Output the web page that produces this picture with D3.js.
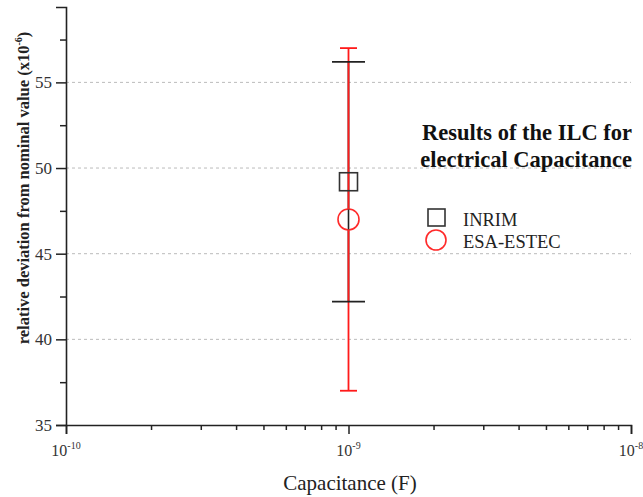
<!DOCTYPE html>
<html><head><meta charset="utf-8">
<script src="https://cdn.jsdelivr.net/npm/d3@7"></script>
<style>
body{margin:0;background:#fff;}
text{font-family:"Liberation Serif","Times New Roman",serif;}
</style></head>
<body><svg id="c" width="643" height="497"></svg>
<script>
const series = ["INRIM","ESA-ESTEC"];
const xValues = [1e-9, 1e-9];
const yValues = [49.2, 47.0];
const yErr = [7.0, 10.0];
const yTicks = [35, 40, 45, 50, 55];
const yMinorTicks = [37.5, 42.5, 47.5, 52.5, 57.5];
const xTicks = [1e-10, 1e-9, 1e-8];
const xTickExp = ["-10", "-9", "-8"];
const titleLines = ["Results of the ILC for", "electrical Capacitance"];

const svg = d3.select("#c");
const axisCol = "#222";
const x = d3.scaleLog().domain([1e-10, 1e-8]).range([66, 631]);
const y = d3.scaleLinear().domain([35, 59.4]).range([425, 7]);

// grid lines
svg.selectAll(".grid").data(yTicks.slice(1)).enter().append("line")
  .attr("x1", x.range()[0]).attr("x2", x.range()[1])
  .attr("y1", d => y(d)).attr("y2", d => y(d))
  .attr("stroke", "#bbb").attr("stroke-width", 1).attr("stroke-dasharray", "3,3");

// y axis
const yAxis = svg.append("g").attr("transform", `translate(${x.range()[0]},0)`)
  .call(d3.axisLeft(y).tickValues(yTicks).tickSize(10).tickPadding(4).tickFormat(d3.format("d")));
yAxis.select(".domain").attr("stroke", axisCol).attr("stroke-width", 1.6);
yAxis.selectAll(".tick line").attr("stroke", axisCol).attr("stroke-width", 1.5);
yAxis.selectAll(".tick text").attr("font-size", 17).attr("fill", "#333")
  .style("font-family", '"Liberation Serif",serif');
const yMin = svg.append("g").attr("transform", `translate(${x.range()[0]},0)`)
  .call(d3.axisLeft(y).tickValues(yMinorTicks).tickSize(6).tickFormat(""));
yMin.select(".domain").remove();
yMin.selectAll(".tick line").attr("stroke", axisCol).attr("stroke-width", 1.5);

// x axis
const xMinorVals = [];
[1e-10, 1e-9].forEach(dec => { for (let k = 2; k <= 9; k++) xMinorVals.push(k * dec); });
const xAxis = svg.append("g").attr("transform", `translate(0,${y.range()[0]})`)
  .call(d3.axisBottom(x).tickValues(xTicks).tickSize(9).tickFormat(""));
xAxis.select(".domain").attr("stroke", axisCol).attr("stroke-width", 1.6);
xAxis.selectAll(".tick line").attr("stroke", axisCol).attr("stroke-width", 1.5);
const xMin = svg.append("g").attr("transform", `translate(0,${y.range()[0]})`)
  .call(d3.axisBottom(x).tickValues(xMinorVals).tickSize(5).tickFormat(""));
xMin.select(".domain").remove();
xMin.selectAll(".tick line").attr("stroke", axisCol).attr("stroke-width", 1.5);

// x tick labels with superscripts
xTicks.forEach((t, i) => {
  const tx = svg.append("text").attr("x", x(t)).attr("y", 456)
    .attr("text-anchor", "middle").attr("font-size", 16).attr("fill", "#333");
  tx.append("tspan").text("10");
  tx.append("tspan").attr("font-size", 10).attr("dy", -7).text(xTickExp[i]);
});

// axis titles
svg.append("text").attr("x", 350).attr("y", 490)
  .attr("text-anchor", "middle").attr("font-size", 21).attr("fill", "#222")
  .text("Capacitance (F)");
const yl = svg.append("text").attr("transform", "translate(29,188) rotate(-90)")
  .attr("text-anchor", "middle").attr("font-size", 16.5).attr("font-weight", "bold").attr("fill", "#222");
yl.append("tspan").text("relative deviation from nominal value (x10");
yl.append("tspan").attr("font-size", 10).attr("dy", -7).text("-6");
yl.append("tspan").attr("dy", 7).text(")");

// error bars
const barCol = [axisCol, "#ff1a1a"];
const capW = [33, 17];
const order = [0, 1];
order.forEach(i => {
  svg.append("line").attr("x1", x(xValues[i])).attr("x2", x(xValues[i]))
    .attr("y1", y(yValues[i] + yErr[i])).attr("y2", y(yValues[i] - yErr[i]))
    .attr("stroke", barCol[i]).attr("stroke-width", 1.8);
});
order.forEach(i => {
  [yValues[i] + yErr[i], yValues[i] - yErr[i]].forEach(v => {
    svg.append("line").attr("x1", x(xValues[i]) - capW[i] / 2).attr("x2", x(xValues[i]) + capW[i] / 2)
      .attr("y1", y(v)).attr("y2", y(v))
      .attr("stroke", barCol[i]).attr("stroke-width", 1.8);
  });
});

// markers
svg.append("rect").attr("x", x(xValues[0]) - 9).attr("y", y(yValues[0]) - 9)
  .attr("width", 18).attr("height", 18).attr("fill", "none")
  .attr("stroke", "#333").attr("stroke-width", 1.6);
svg.append("circle").attr("cx", x(xValues[1])).attr("cy", y(yValues[1])).attr("r", 10.5)
  .attr("fill", "#fff").attr("stroke", "#ff2a2a").attr("stroke-width", 1.6);
svg.append("line").attr("x1", x(xValues[1])).attr("x2", x(xValues[1]))
  .attr("y1", y(yValues[1]) - 10).attr("y2", y(yValues[1]) + 10)
  .attr("stroke", axisCol).attr("stroke-width", 1.6);

// title
titleLines.forEach((t, i) => {
  svg.append("text").attr("x", 632).attr("y", 140 + i * 27).attr("text-anchor", "end")
    .attr("font-size", 22.5).attr("font-weight", "bold").attr("fill", "#111").text(t);
});

// legend
svg.append("rect").attr("x", 428).attr("y", 209).attr("width", 17).attr("height", 17)
  .attr("fill", "none").attr("stroke", "#333").attr("stroke-width", 1.6);
svg.append("circle").attr("cx", 436).attr("cy", 240).attr("r", 10)
  .attr("fill", "none").attr("stroke", "#ff2a2a").attr("stroke-width", 1.6);
series.forEach((s, i) => {
  svg.append("text").attr("x", 463).attr("y", 226 + i * 22).attr("font-size", 18.5)
    .attr("fill", "#222").text(s);
});
</script></body></html>
